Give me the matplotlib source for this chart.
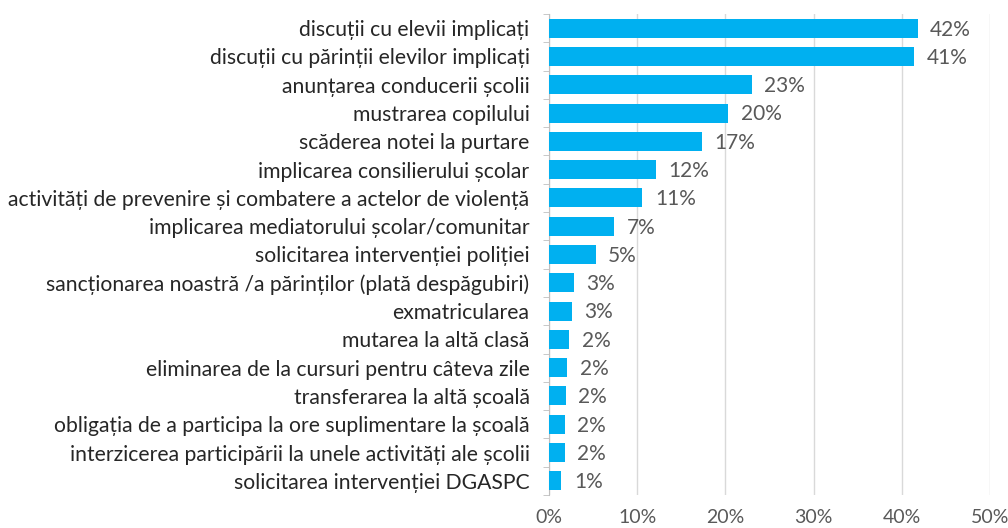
import matplotlib.pyplot as plt
import numpy as np

# categorii (de sus in jos) si procente
categorii = [
    "discuții cu elevii implicați",
    "discuții cu părinții elevilor implicați",
    "anunțarea conducerii școlii",
    "mustrarea copilului",
    "scăderea notei la purtare",
    "implicarea consilierului școlar",
    "activități de prevenire și combatere a actelor de violență",
    "implicarea mediatorului școlar/comunitar",
    "solicitarea intervenției poliției",
    "sancționarea noastră /a părinților (plată despăgubiri)",
    "exmatricularea",
    "mutarea la altă clasă",
    "eliminarea de la cursuri pentru câteva zile",
    "transferarea la altă școală",
    "obligația de a participa la ore suplimentare la școală",
    "interzicerea participării la unele activități ale școlii",
    "solicitarea intervenției DGASPC",
]
procente = [41.8, 41.4, 23.0, 20.3, 17.3, 12.1, 10.6, 7.4, 5.3, 2.8, 2.6,
            2.3, 2.1, 1.9, 1.8, 1.8, 1.4]
x_ticks = [0, 10, 20, 30, 40, 50]

plt.rcParams['font.family'] = ['Lato', 'DejaVu Sans']

fig = plt.figure(figsize=(10.08, 5.28), dpi=100)
ax = fig.add_axes([0.5446, 0.0625, 0.4375, 0.911])

y = np.arange(len(categorii))
bare = ax.barh(y, procente, height=0.67, color='#00B0F0', zorder=3)

for b, v in zip(bare, procente):
    ax.annotate(f"{round(v)}%", (b.get_width(), b.get_y() + b.get_height() / 2),
                xytext=(9, -1), textcoords='offset points', va='center',
                ha='left', fontsize=15, color='#595959')

ax.set_ylim(len(categorii) - 0.5, -0.5)
ax.set_xlim(0, 50)
ax.set_xticks(x_ticks)
ax.set_xticklabels([f"{t}%" for t in x_ticks], fontsize=14, color='#595959')
ax.set_yticks(y)
ax.set_yticklabels(categorii, fontsize=15.2, color='#262626')
# tick-uri pe y intre categorii, ca in Excel
ax.set_yticks(np.arange(len(categorii) + 1) - 0.5, minor=True)
ax.tick_params(axis='y', which='major', length=0, pad=14)
ax.tick_params(axis='y', which='minor', length=4, color='#BFBFBF')
ax.tick_params(axis='x', length=0, pad=10)

ax.grid(axis='x', color='#D9D9D9', linewidth=1, zorder=0)
for s in ['top', 'right', 'bottom']:
    ax.spines[s].set_visible(False)
ax.spines['left'].set_color('#BFBFBF')

fig.savefig('out.png', dpi=100)
